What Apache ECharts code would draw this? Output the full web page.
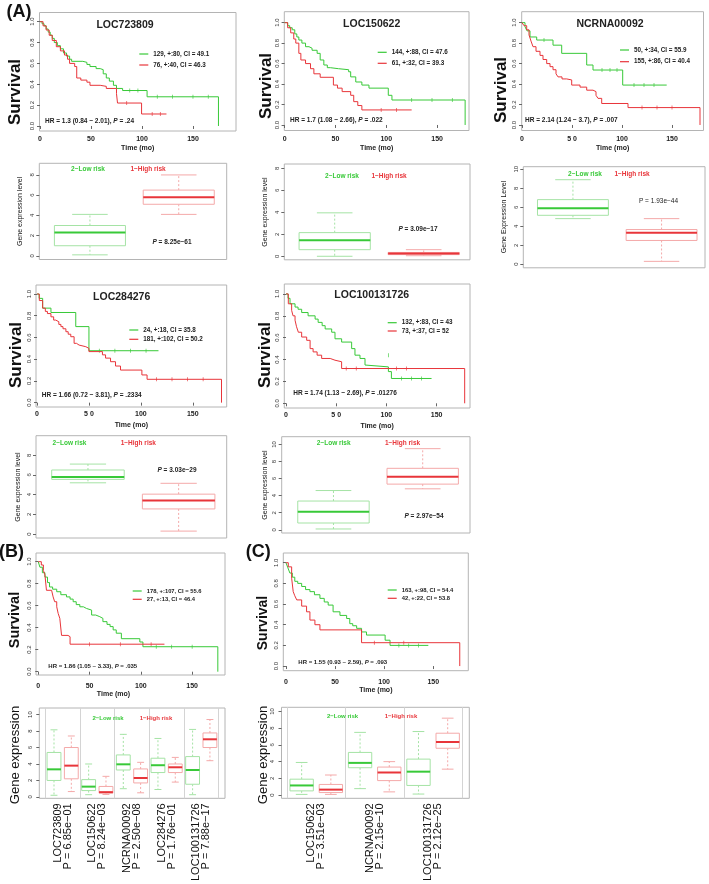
<!DOCTYPE html>
<html>
<head>
<meta charset="utf-8">
<script src="https://cdn.jsdelivr.net/npm/echarts@6.0.0/dist/echarts.min.js"></script>
<style>
html,body{margin:0;padding:0;background:#fff;}
#main{width:709px;height:884px;}
</style>
</head>
<body>
<div id="main"></div>
<script>
//生存曲线数据 [时间(月), 生存率]，green = 2-Low risk, red = 1-High risk
var km1Low = [[0,1],[2,0.98],[4,0.96],[6,0.93],[8,0.9],[10,0.87],[12,0.84],[14,0.8],[17,0.77],[20,0.74],[23,0.7],[26,0.67],[29,0.64],[31,0.62],[42,0.61],[46,0.59],[49,0.57],[55,0.55],[59,0.54],[62,0.5],[65,0.46],[68,0.43],[72,0.39],[75,0.36],[81,0.34],[105,0.28],[175,0]];
var km1High = [[0,1],[3,0.96],[6,0.92],[9,0.87],[12,0.82],[16,0.76],[20,0.72],[24,0.68],[27,0.64],[29,0.6],[34,0.57],[36,0.46],[40,0.44],[46,0.42],[49,0.39],[59,0.38],[65,0.36],[75,0.31],[76,0.22],[99.6,0.115],[124,0.115]];
var km2Low = [[0,1],[3,0.97],[5,0.95],[7.5,0.93],[10,0.89],[12,0.86],[14,0.83],[17,0.8],[20.6,0.765],[24,0.75],[27,0.73],[32,0.7],[35,0.635],[38.6,0.586],[42,0.56],[45,0.55],[53,0.54],[63,0.52],[65,0.47],[70,0.42],[76,0.39],[83,0.36],[102,0.29],[105.6,0.244],[177.6,0]];
var km2High = [[0,1],[3,0.95],[6,0.9],[9,0.84],[11,0.8],[14,0.7],[16,0.635],[20.6,0.6],[25.5,0.55],[28.8,0.5],[35,0.466],[48,0.39],[52,0.36],[56.6,0.326],[65,0.29],[68,0.228],[72,0.19],[76,0.147],[125,0.147]];
var km3Low = [[0,1],[3,0.96],[5,0.92],[8,0.86],[14.7,0.83],[31,0.78],[39.7,0.7],[64.7,0.586],[71,0.537],[100.7,0.39],[144.7,0.39]];
var km3High = [[0,1],[2,0.97],[4.7,0.93],[7,0.88],[9,0.82],[11,0.765],[14,0.72],[18,0.68],[21,0.64],[24.7,0.6],[28,0.57],[31,0.54],[34,0.5],[36,0.47],[40,0.45],[44.7,0.44],[49.7,0.39],[58,0.37],[64.7,0.34],[71,0.326],[74,0.29],[76,0.26],[79.7,0.21],[106,0.17],[178,0]];
var km4Low = [[0,1],[2,0.96],[5.4,0.87],[13.4,0.83],[37.3,0.7],[50,0.478],[117,0.478]];
var km4High = [[0,1],[2.2,0.94],[5.4,0.87],[8,0.84],[10,0.82],[13.4,0.79],[16,0.76],[18,0.745],[21,0.72],[23,0.7],[25,0.68],[27.8,0.653],[30,0.63],[32.5,0.607],[35.7,0.546],[38,0.53],[40.5,0.515],[47,0.5],[50,0.47],[63,0.44],[66,0.41],[70.8,0.377],[75.6,0.337],[80.4,0.3],[101,0.255],[106,0.215],[177.7,0]];
var km5Low = [[0,1],[2,0.96],[4,0.91],[9,0.88],[12,0.86],[15.6,0.83],[22,0.8],[29,0.77],[32,0.74],[36,0.71],[39,0.68],[45.5,0.65],[48.8,0.59],[55.4,0.56],[65.4,0.5],[68.7,0.44],[73.7,0.41],[78.7,0.35],[80,0.333],[102,0.29],[105,0.227],[145,0.227]];
var km5High = [[0,1],[2.3,0.91],[5.6,0.85],[7,0.8],[9,0.76],[10.5,0.7],[12.3,0.65],[15.6,0.606],[20.6,0.576],[24,0.5],[27,0.47],[31,0.44],[35.5,0.41],[44,0.394],[48.8,0.38],[55.4,0.318],[178,0]];
var kmBLow = [[0,1],[1.6,0.95],[4,0.9],[6.5,0.86],[9,0.81],[11,0.77],[14,0.75],[18,0.727],[22,0.7],[27.5,0.68],[31,0.66],[34,0.636],[37,0.61],[40.5,0.59],[44,0.575],[47,0.56],[52,0.515],[56,0.5],[60,0.485],[63,0.455],[67,0.43],[70,0.41],[73,0.38],[76,0.35],[81,0.3],[99,0.27],[102,0.227],[175,0]];
var kmBHigh = [[0,1],[3,0.97],[5,0.92],[6.5,0.88],[8,0.74],[13,0.727],[14.5,0.68],[16,0.636],[18,0.59],[19.4,0.53],[21,0.485],[22.7,0.33],[29,0.318],[31,0.25],[123,0.25]];
var kmCLow = [[0,1],[2,0.95],[4,0.9],[6.5,0.86],[9,0.82],[12,0.8],[16,0.77],[20,0.74],[24.4,0.72],[29,0.69],[34.6,0.655],[39,0.62],[43,0.59],[48,0.525],[55,0.49],[61.8,0.46],[65,0.41],[68,0.39],[72,0.365],[77,0.33],[82,0.3],[101,0.25],[106,0.2],[145,0.2]];
var kmCHigh = [[0,1],[2.4,0.96],[5.8,0.85],[7.4,0.72],[9,0.68],[11,0.64],[16,0.58],[21,0.525],[24.4,0.445],[29.5,0.4],[34.6,0.35],[77,0.226],[177,0]];

//删失点 [时间, 生存率]
var cens1Low = [[88,0.34],[96,0.34],[115,0.28],[130,0.28],[150,0.28],[165,0.28]];
var cens1High = [[85,0.22],[110,0.115],[118,0.115]];
var cens2Low = [[125,0.244],[145,0.244],[165,0.244]];
var cens2High = [[95,0.147],[110,0.147]];
var cens3Low = [[22,0.83],[80,0.537],[88,0.537],[95,0.537],[112,0.39],[122,0.39],[132,0.39]];
var cens3High = [[120,0.17],[135,0.17],[150,0.17]];
var cens4Low = [[60,0.478],[75,0.478],[90,0.478],[105,0.478]];
var cens4High = [[115,0.215],[130,0.215],[145,0.215],[160,0.215]];
var cens5Low = [[102,0.44],[115,0.227],[125,0.227],[135,0.227]];
var cens5High = [[60,0.318],[70,0.318],[110,0.318],[120,0.318]];
var censBLow = [[115,0.227],[130,0.227],[150,0.227]];
var censBHigh = [[50,0.25],[80,0.25],[110,0.25]];
var censCLow = [[115,0.2],[125,0.2],[135,0.2]];
var censCHigh = [[90,0.226],[120,0.226]];

//图例文字与HR文字
var kmTitles = ['LOC723809','LOC150622','NCRNA00092','LOC284276','LOC100131726','',''];
var kmLegends = [
    ['129, +:80, CI = 49.1','76, +:40, CI = 46.3'],
    ['144, +:88, CI = 47.6','61, +:32, CI = 39.3'],
    ['50, +:34, CI = 55.9','155, +:86, CI = 40.4'],
    ['24, +:18, CI = 35.8','181, +:102, CI = 50.2'],
    ['132, +:83, CI = 43','73, +:37, CI = 52'],
    ['178, +:107, CI = 55.6','27, +:13, CI = 46.4'],
    ['163, +:98, CI = 54.4','42, +:22, CI = 53.8']
];
var kmHR = [
    ['HR = 1.3 (0.84 ~ 2.01), ', ' = .24'],
    ['HR = 1.7 (1.08 ~ 2.66), ', ' = .022'],
    ['HR = 2.14 (1.24 ~ 3.7), ', ' = .007'],
    ['HR = 1.66 (0.72 ~ 3.81), ', ' = .2334'],
    ['HR = 1.74 (1.13 ~ 2.69), ', ' = .01276'],
    ['HR = 1.86 (1.05 ~ 3.33), ', ' = .035'],
    ['HR = 1.55 (0.93 ~ 2.59), ', ' = .093']
];
var timeTicks = [0, 50, 100, 150];
var survTicks = [0, 0.2, 0.4, 0.6, 0.8, 1];

//箱线图数据 [min, Q1, median, Q3, max]
var bp1Low = [0.1, 1.0, 2.3, 3.0, 4.1],   bp1High = [4.1, 5.1, 5.8, 6.5, 8.0];
var bp2Low = [0.0, 0.6, 1.45, 2.15, 3.95], bp2High = [0.05, 0.15, 0.25, 0.35, 0.6];
var bp3Low = [4.8, 5.15, 5.9, 6.8, 8.9],  bp3High = [0.3, 2.5, 3.3, 3.65, 4.8];
var bp4Low = [5.2, 5.55, 5.8, 6.5, 7.1],  bp4High = [0.3, 2.55, 3.4, 4.05, 5.15];
var bp5Low = [0.1, 0.8, 2.13, 3.37, 4.6], bp5High = [4.8, 5.35, 6.2, 7.2, 9.5];
var bpPvals = ['8.25e\u221261','3.09e\u221217','1.93e\u221244','3.03e\u221229','2.97e\u221254'];

var bGenes = ['LOC723809','LOC150622','NCRNA00092','LOC284276','LOC100131726'];
var bPvals = ['6.85e\u221201','8.24e\u221203','2.50e\u221208','1.76e\u221201','7.88e\u221217'];
var bLow = [[0.2,2.0,3.35,5.4,8.15],[0.27,0.77,1.25,2.1,4.0],[1.0,3.27,3.96,5.1,7.6],[0.9,2.96,3.85,4.7,7.1],[0.27,1.54,3.27,4.9,8.2]];
var bHigh = [[0.65,2.2,3.8,6.0,7.4],[0.3,0.46,0.58,1.27,2.5],[0.5,1.7,2.3,3.4,4.2],[1.8,2.96,3.6,4.0,4.8],[4.4,6.0,7.0,7.77,9.4]];

var cGenes = ['LOC150622','NCRNA00092','LOC100131726'];
var cPvals = ['3.51e\u221203','2.15e\u221210','2.12e\u221225'];
var cLow = [[0.08,0.5,1.15,1.9,3.9],[0.77,3.27,3.85,5.1,7.5],[0.12,1.15,2.8,4.3,7.6]];
var cHigh = [[0.08,0.3,0.65,1.27,2.4],[0.38,1.73,2.7,3.35,4.0],[3.1,5.6,6.35,7.4,9.2]];

var FONT = "'Liberation Sans', Arial, Helvetica, sans-serif";
var GREEN = '#38c938', RED = '#e8353a';
var BOX_GREEN = '#a5e3a5', BOX_RED = '#f4a9a9';
var BOX_W = 0.8;

var option = {
    animation: false,
    backgroundColor: '#fff',
    textStyle: {fontFamily: FONT},
    grid: [], xAxis: [], yAxis: [], series: [], legend: [], graphic: []
};

//文字
function addText(x, y, str, size, o) {
    o = o || {};
    var style = {
        text: str, fill: o.color || '#222', fontSize: size, fontFamily: FONT,
        fontWeight: o.bold ? 'bold' : 'normal', fontStyle: o.italic ? 'italic' : 'normal',
        align: o.align || 'center', verticalAlign: 'middle',
        textAlign: o.align || 'center', textVerticalAlign: 'middle'
    };
    if (o.rich) style.rich = o.rich;
    option.graphic.push({type: 'text', x: x, y: y, rotation: o.rot || 0, silent: true, z: 20, style: style});
}

function italicP(size, bold) {
    return {i: {fontStyle: 'italic', fontWeight: bold ? 'bold' : 'normal', fontSize: size, fontFamily: FONT, fill: '#222'}};
}

function addGrid(box) {
    option.grid.push({
        left: box[0], top: box[1], width: box[2] - box[0], height: box[3] - box[1],
        show: true, borderColor: '#b4b4b4', borderWidth: 1, backgroundColor: 'transparent'
    });
    return option.grid.length - 1;
}

//生存曲线面板
function kmPanel(k, p) {
    var gi = addGrid(p.box);
    option.xAxis.push({
        gridIndex: gi, type: 'value', min: p.x[0], max: p.x[1],
        name: 'Time (mo)', nameLocation: 'middle', nameGap: p.nameGap,
        nameTextStyle: {fontSize: 7, fontWeight: 'bold', color: '#222', fontFamily: FONT, padding: p.namePad || 0},
        axisLine: {show: false}, splitLine: {show: false},
        axisTick: {length: 3, customValues: timeTicks, lineStyle: {color: '#666'}},
        axisLabel: {
            customValues: timeTicks, margin: p.labelMargin, fontSize: 7, fontWeight: 'bold', color: '#222', fontFamily: FONT,
            formatter: function (v) { return (p.spaced && v === 50) ? '5 0' : String(v); }
        }
    });
    option.yAxis.push({
        gridIndex: gi, type: 'value', min: p.y[0], max: p.y[1],
        axisLine: {show: false}, splitLine: {show: false},
        axisTick: {length: 3, customValues: survTicks, lineStyle: {color: '#666'}},
        axisLabel: {
            customValues: survTicks, rotate: 90, margin: 4, fontSize: 6, color: '#333', fontFamily: FONT,
            formatter: function (v) { return v.toFixed(1); }
        }
    });
    option.series.push({
        name: kmLegends[k][0], type: 'line', xAxisIndex: gi, yAxisIndex: gi, step: 'end',
        symbol: 'none', data: p.low, color: GREEN, lineStyle: {width: 1, color: GREEN}
    });
    option.series.push({
        name: kmLegends[k][1], type: 'line', xAxisIndex: gi, yAxisIndex: gi, step: 'end',
        symbol: 'none', data: p.high, color: RED, lineStyle: {width: 1, color: RED}
    });
    //删失标记
    option.series.push({
        type: 'scatter', xAxisIndex: gi, yAxisIndex: gi, symbol: 'rect', symbolSize: [0.8, 4],
        data: p.censLow, itemStyle: {color: GREEN}, silent: true
    });
    option.series.push({
        type: 'scatter', xAxisIndex: gi, yAxisIndex: gi, symbol: 'rect', symbolSize: [0.8, 4],
        data: p.censHigh, itemStyle: {color: RED}, silent: true
    });
    option.legend.push({
        data: kmLegends[k], left: p.legend[0], top: p.legend[1], orient: 'vertical',
        icon: 'rect', itemWidth: 9, itemHeight: 1.2, itemGap: p.legend[2], padding: 0, selectedMode: false,
        textStyle: {fontSize: p.small ? 5.8 : 6.3, fontWeight: 'bold', color: '#222', fontFamily: FONT, lineHeight: 8}
    });
    if (kmTitles[k]) addText(p.title[0], p.title[1], kmTitles[k], 10.5, {bold: true});
    var hs = p.small ? 6 : 6.5;
    addText(p.hr[0], p.hr[1], kmHR[k][0] + '{i|P}' + kmHR[k][1], hs, {bold: true, align: 'left', rich: italicP(hs, true)});
    addText(p.surv[0], p.surv[1], 'Survival', p.survSize || 17, {bold: true, rot: Math.PI / 2, color: '#111'});
}

//箱线图 (custom series，通过坐标轴换算)
function drawBox(params, api) {
    var x = api.value(0);
    var half = api.size([BOX_W, 0])[0] / 2;
    var lo = api.coord([x, api.value(1)]), q1 = api.coord([x, api.value(2)]), md = api.coord([x, api.value(3)]);
    var q3 = api.coord([x, api.value(4)]), hi = api.coord([x, api.value(5)]);
    var isLow = api.value(6) === 0;
    var edge = isLow ? BOX_GREEN : BOX_RED, mid = isLow ? GREEN : RED;
    var cx = md[0], cap = half / 2;
    return {
        type: 'group',
        children: [
            {type: 'line', shape: {x1: cx, y1: q3[1], x2: cx, y2: hi[1]}, style: {stroke: edge, lineWidth: 1, lineDash: [2, 2]}},
            {type: 'line', shape: {x1: cx, y1: q1[1], x2: cx, y2: lo[1]}, style: {stroke: edge, lineWidth: 1, lineDash: [2, 2]}},
            {type: 'line', shape: {x1: cx - cap, y1: hi[1], x2: cx + cap, y2: hi[1]}, style: {stroke: edge, lineWidth: 1}},
            {type: 'line', shape: {x1: cx - cap, y1: lo[1], x2: cx + cap, y2: lo[1]}, style: {stroke: edge, lineWidth: 1}},
            {type: 'rect', shape: {x: cx - half, y: q3[1], width: half * 2, height: q1[1] - q3[1]}, style: {fill: '#fff', stroke: edge, lineWidth: 1}},
            {type: 'line', shape: {x1: cx - half, y1: md[1], x2: cx + half, y2: md[1]}, style: {stroke: mid, lineWidth: 2}}
        ]
    };
}

function boxItems(lowList, highList) {
    var list = [];
    for (var i = 0; i < lowList.length; i++) {
        list.push([2 * i + 1].concat(lowList[i], [0]));
        list.push([2 * i + 2].concat(highList[i], [1]));
    }
    return list;
}

function bpPanel(p) {
    var gi = addGrid(p.box);
    var xa = {
        gridIndex: gi, type: 'value', min: p.x[0], max: p.x[1],
        axisLine: {show: false}, splitLine: {show: false}, axisTick: {show: false}, axisLabel: {show: false}
    };
    if (p.genes) {
        var centers = [];
        for (var i = 0; i < p.genes.length; i++) centers.push(2 * i + 1.5);
        xa.axisLabel = {
            show: true, customValues: centers, rotate: 90, margin: 5, fontSize: 11, lineHeight: 10, color: '#111', fontFamily: FONT,
            formatter: function (v) { var j = Math.round((v - 1.5) / 2); return p.genes[j] + '\nP = ' + p.pvals[j]; }
        };
    }
    option.xAxis.push(xa);
    option.yAxis.push({
        gridIndex: gi, type: 'value', min: p.y[0], max: p.y[1],
        axisLine: {show: false}, splitLine: {show: false},
        axisTick: {length: 3, customValues: p.ticks, lineStyle: {color: '#666'}},
        axisLabel: {customValues: p.ticks, rotate: 90, margin: p.labelMargin || 4, fontSize: 6, color: '#333', fontFamily: FONT}
    });
    var s = {
        type: 'custom', xAxisIndex: gi, yAxisIndex: gi, renderItem: drawBox, silent: true,
        encode: {x: 0, y: [1, 2, 3, 4, 5]}, data: boxItems(p.low, p.high)
    };
    if (p.seps) {
        s.markLine = {
            silent: true, symbol: 'none', label: {show: false},
            lineStyle: {color: '#d4d4d4', width: 1, type: 'solid'},
            data: p.seps.map(function (v) { return {xAxis: v}; })
        };
    }
    option.series.push(s);
    addText(p.lg[0], p.lg[2], '2\u2212Low risk', p.lgSize || 6.5, {bold: true, color: GREEN});
    addText(p.lg[1], p.lg[2], '1\u2212High risk', p.lgSize || 6.5, {bold: true, color: RED});
    addText(p.yt[0], p.yt[1], p.ytitle, p.ytSize || 7, {rot: Math.PI / 2, color: '#111'});
}

//(A) 第一行
kmPanel(0, {box: [39.5, 12.5, 236, 131], x: [-0.5, 192.2], y: [-0.048, 1.088], low: km1Low, high: km1High, censLow: cens1Low, censHigh: cens1High,
    labelMargin: 5, nameGap: 14, legend: [139.3, 50, 3], title: [125, 25], hr: [45, 121.7], surv: [15, 92]});
kmPanel(1, {box: [284.3, 11.7, 469, 130.5], x: [-0.3, 181.4], y: [-0.054, 1.107], low: km2Low, high: km2High, censLow: cens2Low, censHigh: cens2High,
    labelMargin: 5, nameGap: 14, legend: [377.7, 48.3, 3], title: [371.7, 24], hr: [290, 120], surv: [266, 86]});
kmPanel(2, {box: [521.7, 11.7, 703.5, 130.5], x: [-0.3, 181.5], y: [-0.054, 1.107], low: km3Low, high: km3High, censLow: cens3Low, censHigh: cens3High, spaced: true,
    labelMargin: 5, nameGap: 14, legend: [620, 46, 3.7], title: [610, 24], hr: [525, 120], surv: [501.7, 90]});

//(A) 第三行
kmPanel(3, {box: [36, 285, 226.7, 407], x: [-1, 182.7], y: [-0.04, 1.083], low: km4Low, high: km4High, censLow: cens4Low, censHigh: cens4High, spaced: true,
    labelMargin: 4, nameGap: 15, legend: [129.3, 326, 1.3], title: [121.7, 296.7], hr: [41.7, 395], surv: [16.7, 355]});
kmPanel(4, {box: [284.3, 284, 470, 408], x: [-1.7, 183.3], y: [-0.043, 1.091], low: km5Low, high: km5High, censLow: cens5Low, censHigh: cens5High, spaced: true,
    labelMargin: 4, nameGap: 15, legend: [387.7, 318.7, 0.3], title: [371.7, 295], hr: [293.3, 393.3], surv: [265, 355]});

//(B) (C)
kmPanel(5, {box: [36, 553, 225, 675], x: [-2.2, 182], y: [-0.03, 1.079], low: kmBLow, high: kmBHigh, censLow: censBLow, censHigh: censBHigh, small: true,
    labelMargin: 7.5, nameGap: 13.5, namePad: [0, 34, 0, 0], legend: [132.7, 587, 0.3], title: [0, 0], hr: [48.3, 666.7], surv: [15, 620], survSize: 14.5});
kmPanel(6, {box: [283.3, 553, 468.3, 670.7], x: [-2.7, 185.7], y: [-0.045, 1.094], low: kmCLow, high: kmCHigh, censLow: censCLow, censHigh: censCHigh, small: true,
    labelMargin: 8, nameGap: 15, legend: [387.7, 586, 0.3], title: [0, 0], hr: [298.3, 662.7], surv: [263.3, 623], survSize: 14});

//(A) 箱线图
bpPanel({box: [39.3, 163.3, 226.7, 259.5], x: [0.43, 2.54], y: [-0.36, 9.15], ticks: [0, 2, 4, 6, 8],
    low: [bp1Low], high: [bp1High], lg: [88, 148, 169.3], yt: [20, 211.4], ytitle: 'Gene expression level'});
bpPanel({box: [284.3, 164, 470, 259.8], x: [0.434, 2.52], y: [-0.32, 8.39], ticks: [0, 2, 4, 6, 8],
    low: [bp2Low], high: [bp2High], lg: [342, 389, 176], yt: [265, 212], ytitle: 'Gene expression level'});
bpPanel({box: [523.3, 166.7, 705, 267.8], x: [0.44, 2.49], y: [-0.38, 10.27], ticks: [0, 2, 4, 6, 8, 10],
    low: [bp3Low], high: [bp3High], lg: [585, 632, 174.3], yt: [504, 217], ytitle: 'Gene Expression Level'});
bpPanel({box: [36, 435.7, 226.7, 538], x: [0.427, 2.53], y: [-0.4, 9.98], ticks: [0, 2, 4, 6, 8],
    low: [bp4Low], high: [bp4High], lg: [69.5, 138.3, 443.3], yt: [18.3, 487], ytitle: 'Gene expression level'});
bpPanel({box: [281.7, 436.7, 470, 533], x: [0.42, 2.53], y: [-0.37, 10.9], ticks: [0, 2, 4, 6, 8, 10],
    low: [bp5Low], high: [bp5High], lg: [333.7, 402.5, 443.3], yt: [265, 485], ytitle: 'Gene expression level'});

//P值
addText(172, 242.3, '{i|P} = ' + bpPvals[0], 6.5, {bold: true, rich: italicP(6.5, true)});
addText(418, 229.3, '{i|P} = ' + bpPvals[1], 6.5, {bold: true, rich: italicP(6.5, true)});
addText(658.5, 201.7, 'P = ' + bpPvals[2], 6.5, {});
addText(177, 470.7, '{i|P} = ' + bpPvals[3], 6.5, {bold: true, rich: italicP(6.5, true)});
addText(424, 516, '{i|P} = ' + bpPvals[4], 6.5, {bold: true, rich: italicP(6.5, true)});

//(B) (C) 箱线图
bpPanel({box: [39.3, 708, 225, 803], x: [0.152, 10.87], y: [-0.17, 10.8], ticks: [0, 2, 4, 6, 8, 10], labelMargin: 6,
    low: bLow, high: bHigh, genes: bGenes, pvals: bPvals, seps: [0.5, 2.5, 4.5, 6.5, 8.5, 10.5],
    lg: [108, 156, 718.3], lgSize: 6, yt: [15, 755], ytitle: 'Gene expression', ytSize: 13});
bpPanel({box: [281.5, 707.3, 469.3, 801.7], x: [0.31, 6.74], y: [-0.39, 10.5], ticks: [0, 2, 4, 6, 8, 10], labelMargin: 6,
    low: cLow, high: cHigh, genes: cGenes, pvals: cPvals, seps: [0.5, 2.5, 4.5, 6.5],
    lg: [342.5, 401, 716.7], lgSize: 6, yt: [263.3, 755], ytitle: 'Gene expression', ytSize: 13});

//面板字母
addText(19, 12, '(A)', 18, {bold: true, color: '#111'});
addText(11.5, 551.7, '(B)', 18, {bold: true, color: '#111'});
addText(258.3, 551.7, '(C)', 18, {bold: true, color: '#111'});

var chart = echarts.init(document.getElementById('main'));
chart.setOption(option);
</script>
</body>
</html>
